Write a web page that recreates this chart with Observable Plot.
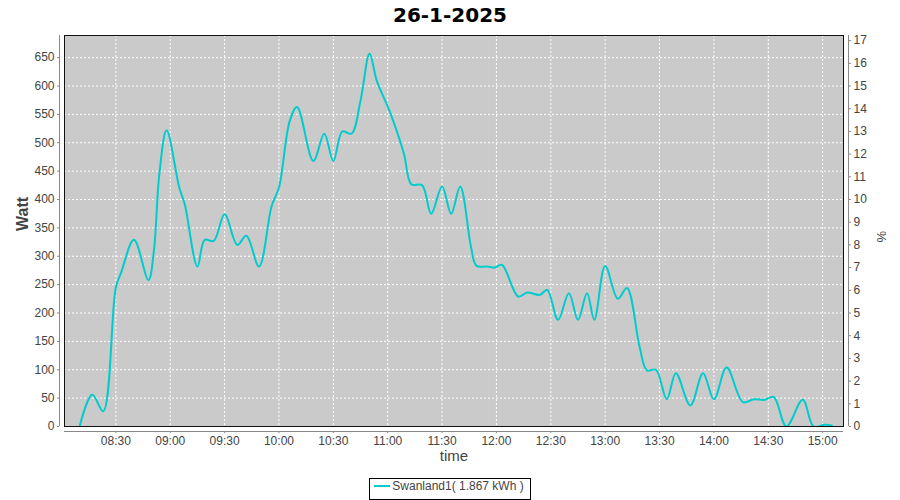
<!DOCTYPE html>
<html><head><meta charset="utf-8">
<script src="https://cdn.jsdelivr.net/npm/d3@7"></script>
<script src="https://cdn.jsdelivr.net/npm/@observablehq/plot@0.6"></script>
<style>
body{margin:0;background:#fff;width:900px;height:500px;overflow:hidden;}
#title{height:30px;text-align:center;font:bold 20px "DejaVu Sans",sans-serif;line-height:30px;color:#000;}
#chart{height:440px;}
#legwrap{text-align:center;margin-top:6px;}
#legend{display:inline-block;border:1px solid #000;height:20px;line-height:20px;padding:0 6px 0 4px;font:12px "Liberation Sans",sans-serif;color:#444;white-space:nowrap;}
#legend .sw{display:inline-block;width:16px;height:2px;background:#00cccc;vertical-align:middle;margin-right:2px;position:relative;top:-1px;}
</style></head><body>
<div id="title">26-1-2025</div>
<div id="chart"></div>
<div id="legwrap"><div id="legend"><span class="sw"></span>Swanland1( 1.867 kWh )</div></div>
<script>
const day = "2025-01-26";
const times = ["08:10","08:17","08:23","08:30","08:33","08:40","08:48","08:51","08:54","08:58",
"09:05","09:08","09:15","09:19","09:24","09:30","09:37","09:42","09:49","09:56",
"10:00","10:06","10:10","10:19","10:25","10:30","10:35","10:40","10:45","10:50",
"10:54","11:01","11:09","11:13","11:19","11:24","11:30","11:35","11:40","11:46",
"11:49","11:55","11:59","12:03","12:12","12:17","12:24","12:28","12:34","12:40",
"12:45","12:50","12:54","13:00","13:07","13:12","13:19","13:23","13:28","13:34",
"13:39","13:47","13:54","14:00","14:07","14:16","14:22","14:28","14:33","14:40",
"14:49","14:55","15:01","15:05"];
const watts = [0,56,27,245,272,329,258,310,445,522,
421,392,282,329,327,374,320,336,282,389,
421,539,563,468,516,468,520,516,574,657,
609,556,480,427,425,375,423,375,423,316,
283,282,280,285,229,236,232,241,188,235,
188,235,188,283,225,244,140,99,100,48,
94,37,94,48,104,43,48,47,52,0,
47,0,3,2];
const xTickLabels = ["08:30","09:00","09:30","10:00","10:30","11:00","11:30","12:00","12:30","13:00","13:30","14:00","14:30","15:00"];
const yTicks = [0,50,100,150,200,250,300,350,400,450,500,550,600,650];
const pctTicks = [0,1,2,3,4,5,6,7,8,9,10,11,12,13,14,15,16,17];
const wattsPerPct = 40;

const parse = d3.utcParse("%Y-%m-%d %H:%M");
const data = times.map((t,i)=>({time:parse(day+" "+t), watt:watts[i]}));
const xTicks = xTickLabels.map(t=>parse(day+" "+t));
const x0 = d3.utcParse("%Y-%m-%d %H:%M:%S")(day+" 08:01:40");
const x1 = d3.utcParse("%Y-%m-%d %H:%M:%S")(day+" 15:11:30");
const fmt = d3.utcFormat("%H:%M");
const font = "'Liberation Sans', sans-serif";

const chart = Plot.plot({
  width:900, height:440,
  marginTop:5, marginBottom:44, marginLeft:64, marginRight:57,
  style:{background:"white", fontFamily:font, fontSize:"12px", color:"#444", overflow:"visible"},
  x:{type:"utc", domain:[x0,x1], axis:null},
  y:{domain:[0,689], axis:null},
  marks:[
    Plot.frame({fill:"#cacaca"}),
    Plot.gridY(yTicks, {stroke:"white", strokeOpacity:1, strokeDasharray:"2,2"}),
    Plot.gridX(xTicks, {stroke:"white", strokeOpacity:1, strokeDasharray:"2,2"}),
    Plot.line(data, {x:"time", y:"watt", stroke:"#00cccc", strokeWidth:2, curve:"catmull-rom", clip:true}),
    Plot.frame({stroke:"#111", strokeWidth:1}),
    // left axis
    Plot.ruleX([x0], {dx:-5, stroke:"#888"}),
    Plot.axisY(yTicks, {anchor:"left", label:null, tickSize:2, tickPadding:3, dx:-5, stroke:"#888", fill:"#444", fontSize:12}),
    Plot.text(["Watt"], {frameAnchor:"left", dx:-42, rotate:-90, fontSize:16, fill:"#444", fontWeight:"bold"}),
    // right axis
    Plot.ruleX([x1], {dx:5, stroke:"#888"}),
    Plot.axisY(pctTicks.map(k=>k*wattsPerPct), {anchor:"right", label:null, tickSize:2, tickPadding:3, dx:5, stroke:"#888", fill:"#444", fontSize:12, tickFormat:d=>String(Math.round(d/wattsPerPct))}),
    Plot.text(["%"], {frameAnchor:"right", dx:38, rotate:-90, fontSize:13, fill:"#444"}),
    // bottom axis
    Plot.ruleY([0], {dy:5, stroke:"#888"}),
    Plot.axisX(xTicks, {anchor:"bottom", label:null, tickSize:2, tickPadding:3, dy:5, stroke:"#888", fill:"#444", fontSize:12, tickFormat:fmt}),
    Plot.text(["time"], {frameAnchor:"bottom", dy:34, fontSize:15, fill:"#444"})
  ]
});
document.getElementById("chart").appendChild(chart);
</script>
</body></html>
